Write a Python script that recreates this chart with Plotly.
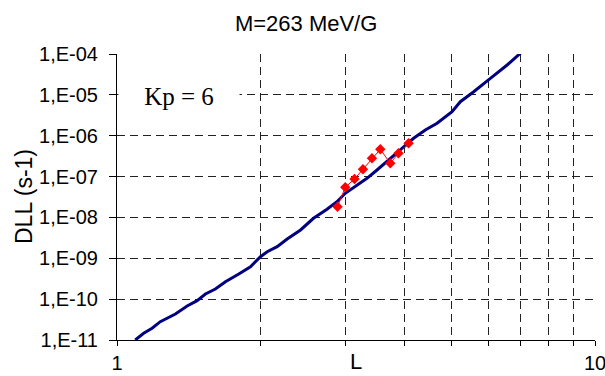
import plotly.graph_objects as go

# Blue model curve (L, DLL)
L_model = [1.092, 1.137, 1.184, 1.232, 1.325, 1.402, 1.471, 1.531, 1.606, 1.686,
           1.798, 1.902, 1.996, 2.062, 2.163, 2.270, 2.421, 2.577, 2.750, 2.885,
           3.003, 3.150, 3.334, 3.499, 3.672, 3.914, 4.174, 4.416, 4.673, 5.023,
           5.228, 5.575, 6.041, 6.549, 7.039]
logD_model = [-11.0, -10.836, -10.713, -10.552, -10.363, -10.167, -10.038, -9.874, -9.751, -9.573,
              -9.384, -9.206, -8.961, -8.839, -8.716, -8.528, -8.307, -8.021, -7.801, -7.615,
              -7.409, -7.248, -7.042, -6.839, -6.636, -6.349, -6.063, -5.860, -5.696, -5.412,
              -5.167, -4.923, -4.595, -4.269, -3.944]
D_model = [10 ** v for v in logD_model]

# Red data points
L_obs = [2.893, 3.003, 3.14, 3.27, 3.415, 3.555, 3.73, 3.88, 4.074]
D_obs = [1.83e-8, 5.47e-8, 8.73e-8, 1.51e-7, 2.80e-7, 4.65e-7, 2.11e-7, 3.72e-7, 6.52e-7]

# Axis ticks
x_ticks = [1, 2, 3, 4, 5, 6, 7, 8, 9, 10]
x_ticktext = ["1", "", "", "", "", "", "", "", "", "10"]
y_ticks = [1e-11, 1e-10, 1e-9, 1e-8, 1e-7, 1e-6, 1e-5, 1e-4]
y_ticktext = ["1,E-11", "1,E-10", "1,E-09", "1,E-08", "1,E-07", "1,E-06", "1,E-05", "1,E-04"]

title_text = "M=263 MeV/G"
kp_text = "Kp = 6"
x_title = "L"
y_title = "DLL (s-1)"

fig = go.Figure()
fig.add_trace(go.Scatter(x=L_model, y=D_model, mode="lines",
                         line=dict(color="#000080", width=3), showlegend=False))
fig.add_trace(go.Scatter(x=L_obs, y=D_obs, mode="lines+markers",
                         line=dict(color="#ff0000", width=1),
                         marker=dict(symbol="diamond", size=8, color="#ff0000"),
                         showlegend=False))

sans = "Liberation Sans, Arial, sans-serif"
grid_col = "#222222"
PW, PH = 478, 286

fig.update_layout(
    width=605, height=376,
    margin=dict(l=117, r=10, t=54, b=36, autoexpand=False),
    paper_bgcolor="white", plot_bgcolor="white",
    font=dict(family=sans, color="black"),
    title=dict(text=title_text, x=0.506, xref="container", xanchor="center",
               y=1 - 23 / 376, yref="container", yanchor="middle",
               font=dict(family=sans, size=22, color="black")),
    xaxis=dict(type="log", range=[0, 1], tickvals=x_ticks, ticktext=x_ticktext,
               showgrid=True, gridcolor=grid_col, gridwidth=1, griddash="8px,5px",
               showline=True, linecolor="black", linewidth=1,
               ticks="outside", ticklen=5, tickcolor="black",
               tickfont=dict(family=sans, size=20, color="black"),
               ticklabelstandoff=0, ticklabeloverflow="allow",
               automargin=False, zeroline=False),
    yaxis=dict(type="log", range=[-11, -4], tickvals=y_ticks, ticktext=y_ticktext,
               showgrid=True, gridcolor=grid_col, gridwidth=1, griddash="8px,5px",
               showline=True, linecolor="black", linewidth=1,
               ticks="outside", ticklen=7, tickcolor="black",
               tickfont=dict(family=sans, size=20, color="black"),
               ticklabelstandoff=7, ticklabeloverflow="allow",
               automargin=False, zeroline=False),
    annotations=[
        dict(text=kp_text, xref="paper", yref="paper", x=1 / PW, y=1 - (96 - 54) / PH,
             xanchor="left", yanchor="middle", showarrow=False, bgcolor="white",
             width=120, height=30, align="center", borderpad=0,
             font=dict(family="Liberation Serif, Times New Roman, serif", size=25, color="black")),
        dict(text=y_title, xref="paper", yref="paper", x=(24 - 117) / PW, y=0.5,
             xanchor="center", yanchor="middle", textangle=-90, showarrow=False,
             font=dict(family=sans, size=23, color="black")),
        dict(text=x_title, xref="paper", yref="paper", x=0.5, y=-(347 - 340) / PH,
             xanchor="center", yanchor="top", showarrow=False,
             font=dict(family=sans, size=22, color="black")),
    ],
)

fig.write_html("out.html")
